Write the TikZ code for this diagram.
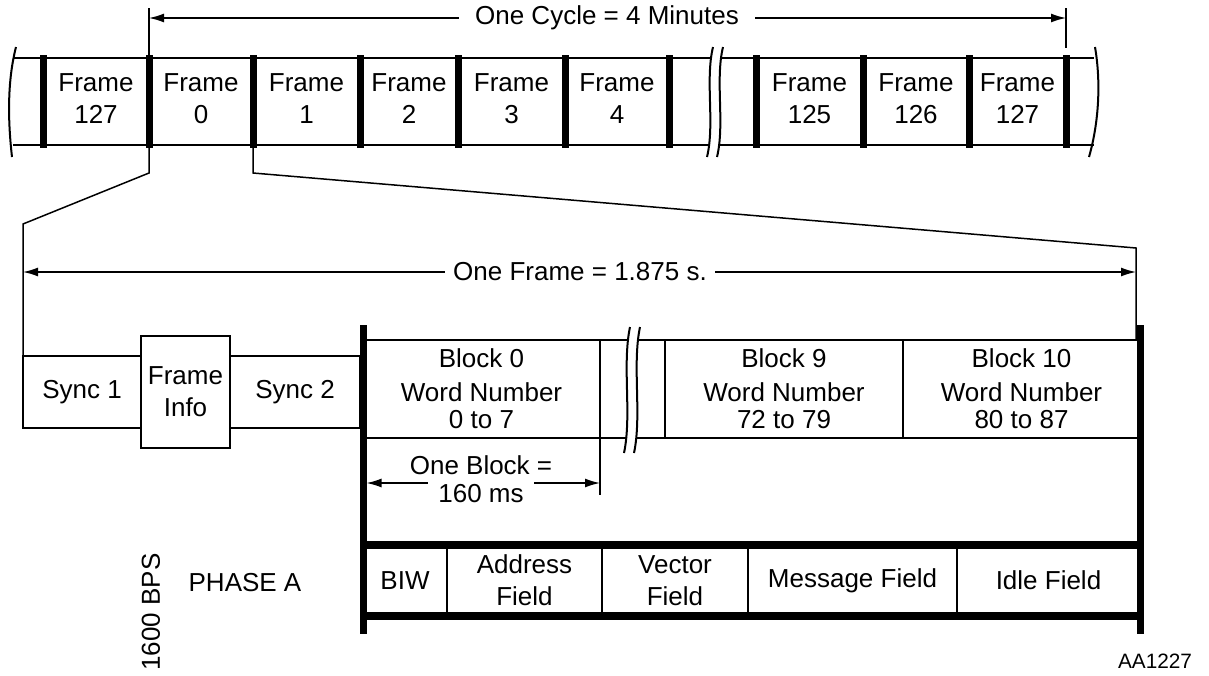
\documentclass[tikz,border=0pt]{standalone}
\usepackage{fontspec}
\setmainfont{Liberation Sans}
\usetikzlibrary{arrows.meta,positioning}
\tikzset{
  lbl/.style={align=center, inner sep=0pt, font=\fontsize{13}{16}\selectfont},
  dimlbl/.style={lbl, fill=white, inner xsep=8pt},
  thinline/.style={line width=0.75pt},
  strip/.style={line width=1.1pt},
  framebar/.style={line width=3.5pt},
  rail/.style={line width=4pt},
  wave/.style={line width=1pt},
  syncbox/.style={lbl, draw, line width=1.25pt, outer sep=0pt},
  blockbox/.style={lbl, draw, line width=1pt, outer sep=0pt, minimum height=49pt},
  field/.style={lbl, draw, line width=0.75pt, outer sep=0pt, minimum height=35.5pt},
  dimarrow/.style={-{Latex[length=7.5pt,width=4.5pt]}, line width=0.75pt}
}
\newcommand{\breakpair}[3]{%
  \fill[white] ({#1+3},#2) .. controls ({#1-5},{#2+0.3*(#3-#2)}) and ({#1+5},{#2+0.7*(#3-#2)}) .. ({#1-3},#3)
    -- ({#1+7},#3) .. controls ({#1+15},{#2+0.7*(#3-#2)}) and ({#1+5},{#2+0.3*(#3-#2)}) .. ({#1+13},#2) -- cycle;
  \draw[wave] ({#1+3},#2) .. controls ({#1-5},{#2+0.3*(#3-#2)}) and ({#1+5},{#2+0.7*(#3-#2)}) .. ({#1-3},#3);
  \draw[wave] ({#1+13},#2) .. controls ({#1+5},{#2+0.3*(#3-#2)}) and ({#1+15},{#2+0.7*(#3-#2)}) .. ({#1+7},#3);
}

\begin{document}
\begin{tikzpicture}[x=0.5pt,y=-0.5pt]
\useasboundingbox (0,0) rectangle (1209,675);

% frame strip
\draw[strip] (13,58) -- (1094,58) (13,145) -- (1094,145);
\foreach \x in {43,149,253,360,458,565,669,756,863,969,1066}
  \draw[framebar] (\x,55) -- (\x,148);
\foreach \x/\n/\name in {96/127/f127a,201/0/f0,306.5/1/f1,409/2/f2,511.5/3/f3,617/4/f4,809.5/125/f125,916/126/f126,1017.5/127/f127b}
  \node[lbl] (\name) at (\x,99) {Frame\\\n};
\draw[wave] (16,47) .. controls (7,82) and (8,122) .. (12,157);
\draw[wave] (1095,47) .. controls (1101,82) and (1099,122) .. (1089,157);
\breakpair{710}{47}{157}

\node[dimlbl] (cycle) at (607,18) {One Cycle = 4 Minutes};
\coordinate (cycL) at (149,18);
\coordinate (cycR) at (1066,18);
\draw[dimarrow] (cycle) -- (cycL);
\draw[dimarrow] (cycle) -- (cycR);
\draw[thinline] (149,8) -- (149,55) (1066,8) -- (1066,48);

% sync and frame info
\node[syncbox, minimum width=59pt, minimum height=36pt] (sync1) at (82,392) {Sync 1};
\node[syncbox, minimum width=44.5pt, minimum height=56pt, right=0pt of sync1] (finfo) {Frame\\Info};
\node[syncbox, minimum width=65pt, minimum height=36pt, right=0pt of finfo] (sync2) {Sync 2};

% blocks
\node[blockbox, minimum width=118.5pt] (blk0) at (481.5,389) {Block 0\\[1pt]Word Number\\[-2.5pt]0 to 7};
\node[blockbox, minimum width=119pt] (blk9) at (784,389) {Block 9\\[1pt]Word Number\\[-2.5pt]72 to 79};
\node[blockbox, minimum width=118.5pt, right=0pt of blk9] (blk10) {Block 10\\[1pt]Word Number\\[-2.5pt]80 to 87};
\draw[line width=1pt] (blk0.north east) -- (blk9.north west) (blk0.south east) -- (blk9.south west);
\breakpair{627}{327}{453}

% zoom lines
\draw[thinline] (149,148) -- (149,173) -- (23,224) -- (sync1.north west);
\draw[thinline] (253,148) -- (253,173) -- (1136,248) -- (1136,340);

\node[dimlbl, inner xsep=4pt] (oneframe) at (580,272) {One Frame = 1.875 s.};
\coordinate (ofL) at (23,272);
\coordinate (ofR) at (1136,272);
\draw[dimarrow] (oneframe) -- (ofL);
\draw[dimarrow] (oneframe) -- (ofR);

\node[lbl] (oneblk) at (481,465) {One Block =};
\node[lbl, inner xsep=5pt] (blkms) at (481,494) {160 ms};
\coordinate (obL) at (366.5,483);
\coordinate (obR) at (600,483);
\draw[thinline] (blk0.south east) -- (600,495);
\draw[dimarrow] (blkms.west |- obL) -- (obL);
\draw[dimarrow] (blkms.east |- obR) -- (obR);

% phase A fields
\node[field, minimum width=42pt] (biw) at (405,580.5) {BIW};
\node[field, minimum width=77.5pt, right=0pt of biw] (addr) {Address\\Field};
\node[field, minimum width=73pt, right=0pt of addr] (vect) {Vector\\Field};
\node[field, minimum width=104.5pt, right=0pt of vect] (msg) {Message Field};
\node[field, minimum width=91.5pt, right=0pt of msg] (idle) {Idle Field};
\draw[rail] (biw.north west) -- (idle.north east) (biw.south west) -- (idle.south east);
\draw[framebar] (363,325) -- (363,634);
\draw[framebar] (1140,325) -- (1140,634);

\node[lbl] (phase) at (245,583) {PHASE A};
\node[lbl, rotate=90] (bps) at (151,612) {1600 BPS};
\node[lbl, font=\fontsize{10.4}{12}\selectfont] (figno) at (1155,661) {AA1227};
\end{tikzpicture}
\end{document}
